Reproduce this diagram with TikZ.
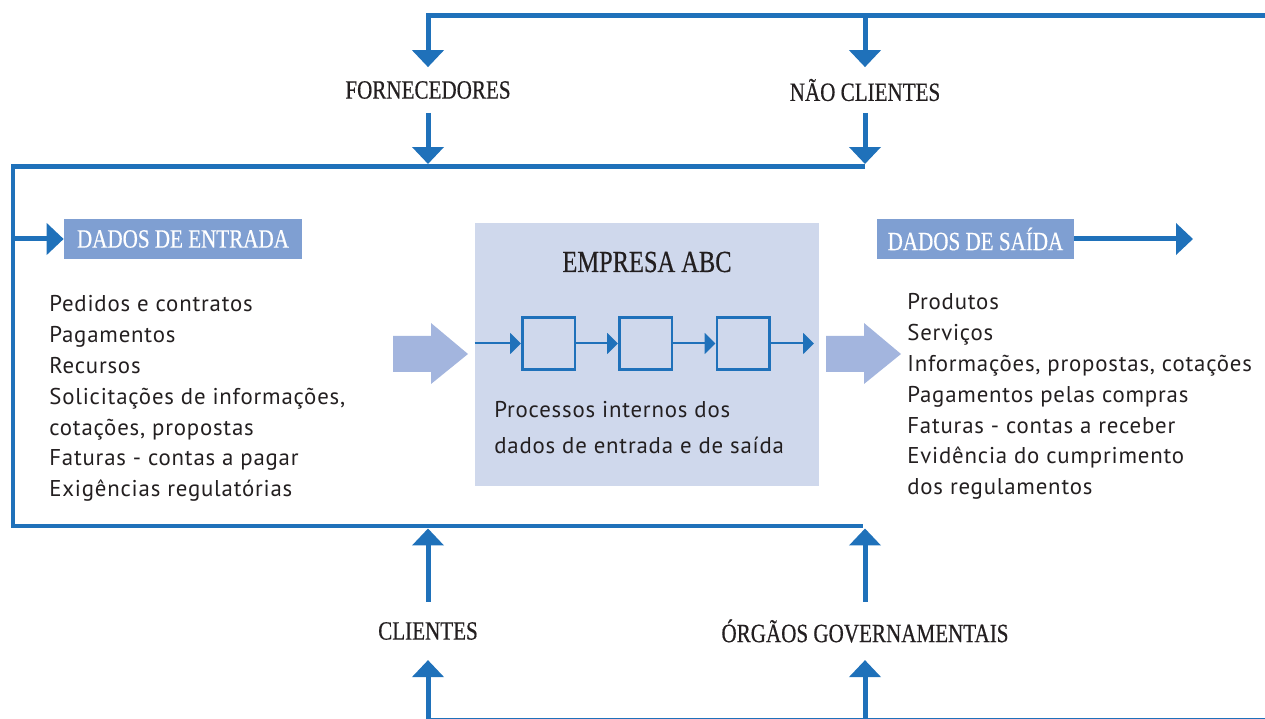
\documentclass[tikz,border=0pt]{standalone}
\usepackage{fontspec}
\setmainfont[LetterSpace=3.5]{PT Sans}
\newfontfamily\headfont[FakeStretch=0.8,FakeBold=0.5]{Liberation Serif}
\usetikzlibrary{arrows.meta}
\definecolor{flowblue}{HTML}{1F71BA}
\definecolor{tagblue}{HTML}{7F9FD2}
\definecolor{boxblue}{HTML}{CFD8EC}
\definecolor{bigblue}{HTML}{A3B5DE}
\definecolor{ink}{HTML}{231F20}

\begin{document}
\begin{tikzpicture}[x=0.02cm,y=-0.02cm,
  line/.style={flowblue,line width=0.1cm},
  flow/.style={line,-{Triangle[length=0.34cm,width=0.62cm]}},
  pflow/.style={flowblue,line width=0.04cm,-{Triangle[length=0.22cm,width=0.42cm]}},
  actor/.style={font=\headfont\fontsize{15}{18}\selectfont,text=ink,inner sep=0pt,minimum height=0.9cm},
  tag/.style={fill=tagblue,text=white,font=\headfont\fontsize{15}{18}\selectfont,inner sep=0pt,minimum height=0.8cm},
  item/.style={anchor=base west,inner sep=0pt,text=ink,font=\fontsize{13}{15}\selectfont},
  stage/.style={draw=flowblue,line width=0.05cm,inner sep=0pt,minimum size=1.05cm}]
\useasboundingbox (0,0) rectangle (1265,719);

% outside parties
\node[actor] (forn) at (428,90) {FORNECEDORES};
\node[actor] (nao) at (865,90) {NÃO CLIENTES};
\node[actor,minimum height=1.15cm] (cli) at (428,631) {CLIENTES};
\node[actor,minimum height=1.15cm] (orgaos) at (865,631) {ÓRGÃOS GOVERNAMENTAIS};

\coordinate (topR) at (1265,15.5);
\coordinate (botR) at (1265,720);
\coordinate (inTL) at (13,166.5);
\coordinate (inTR) at (865,166.5);
\coordinate (inBL) at (13,526);
\coordinate (inBR) at (863,526);

\draw [flow] (topR) -| (forn.north);
\draw [flow] (nao |- topR) -- (nao.north);
\draw [line] (inTR) -- (inTL) -- (inBL) -- (inBR);
\draw [flow,shorten >=0.05cm] (forn.south) -- (forn |- inTL);
\draw [flow,shorten >=0.05cm] (nao.south) -- (inTR);
\draw [flow,shorten >=0.05cm] (cli.north) -- (cli |- inBL);
\draw [flow,shorten >=0.05cm] (orgaos.north) -- (orgaos |- inBL);
\draw [flow] (botR) -| (cli.south);
\draw [flow] (orgaos |- botR) -- (orgaos.south);

% input and output
\node[tag,minimum width=4.76cm] (entrada) at (183,239) {DADOS DE ENTRADA};
\node[tag,minimum width=3.94cm] (saida) at (975.5,239) {DADOS DE SAÍDA};
\coordinate (outEnd) at (1193,239);
\draw [flow] (inTL |- entrada) -- (entrada.west);
\draw [flow] (saida.east) -- (outEnd);

\foreach \t [count=\i] in {Pedidos e contratos, Pagamentos, Recursos, {Solicitações de informações,}, {cotações, propostas}, Faturas - contas a pagar, Exigências regulatórias}
  \node[item] (in\i) at (49,{312+30.8*(\i-1)}) {\t};
\foreach \t [count=\i] in {Produtos, Serviços, {Informações, propostas, cotações}, Pagamentos pelas compras, Faturas - contas a receber, Evidência do cumprimento, dos regulamentos}
  \node[item] (out\i) at (907,{310+30.8*(\i-1)}) {\t};

\fill [bigblue] (393,336) -- ++(38,0) -- ++(0,-13) -- (468,354) -- (431,384) -- ++(0,-12) -- (393,372) -- cycle;
\fill [bigblue] (826,336) -- ++(38,0) -- ++(0,-13) -- (901,354) -- (864,384) -- ++(0,-12) -- (826,372) -- cycle;

% company
\node[fill=boxblue,inner sep=0pt,minimum width=6.88cm,minimum height=5.26cm] (empresa) at (647,354.5) {};
\node[actor,minimum height=0pt,font=\headfont\fontsize{17.4}{20}\selectfont] (title) at (647,262) {EMPRESA ABC};
\node[stage] (s1) at (548.5,343.5) {};
\node[stage] (s2) at (645.5,343.5) {};
\node[stage] (s3) at (743,343.5) {};
\coordinate (procEnd) at (814,343.5);
\draw [pflow] (empresa.west |- s1) -- (s1.west);
\draw [pflow] (s1.east) -- (s2.west);
\draw [pflow] (s2.east) -- (s3.west);
\draw [pflow] (s3.east) -- (procEnd);
\node[item] (proc1) at (494,418) {Processos internos dos};
\node[item] (proc2) at (494,454) {dados de entrada e de saída};
\end{tikzpicture}
\end{document}
